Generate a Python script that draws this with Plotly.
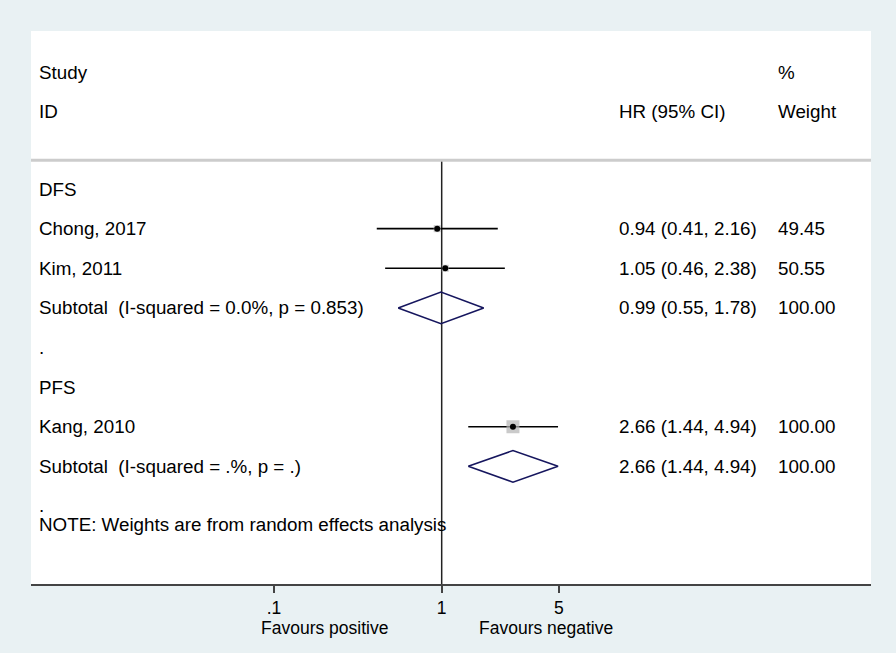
import math
import plotly.graph_objects as go

# Rows of the forest plot (top to bottom, below the header)
row_labels = ["DFS", "Chong, 2017", "Kim, 2011",
              "Subtotal\u00a0\u00a0(I-squared = 0.0%, p = 0.853)", ".",
              "PFS", "Kang, 2010",
              "Subtotal\u00a0\u00a0(I-squared = .%, p = .)", "."]

# Individual studies
study_rows = [1, 2, 6]
study_hr = [0.94, 1.05, 2.66]
study_lo = [0.41, 0.46, 1.44]
study_hi = [2.16, 2.38, 4.94]
study_wt = ["49.45", "50.55", "100.00"]
study_box = [7, 7, 13]

# Subtotals (diamonds)
sub_rows = [3, 7]
sub_hr = [0.99, 2.66]
sub_lo = [0.55, 1.44]
sub_hi = [1.78, 4.94]
sub_wt = ["100.00", "100.00"]

tick_vals = [0.1, 1, 5]
tick_text = [".1", "1", "5"]

FONT = "Liberation Sans, Arial, sans-serif"
FS = 18.8
x_lab = (37 - 31) / 840
x_hr = (617 - 31) / 840
x_wt = (776 - 31) / 840

fig = go.Figure()

# null line
fig.add_trace(go.Scatter(x=[1, 1], y=[-0.73, 9.97], mode="lines",
                         line=dict(color="#222222", width=1.5),
                         hoverinfo="skip", showlegend=False))

# header separator
fig.add_shape(type="line", xref="paper", yref="y", x0=0, x1=1, y0=-0.73, y1=-0.73,
              line=dict(color="#cccccc", width=3))

# confidence intervals
for r, lo, hi in zip(study_rows, study_lo, study_hi):
    fig.add_trace(go.Scatter(x=[lo, hi], y=[r, r], mode="lines",
                             line=dict(color="black", width=1.6),
                             hoverinfo="skip", showlegend=False))

# weight boxes and point estimates
fig.add_trace(go.Scatter(x=study_hr, y=study_rows, mode="markers",
                         marker=dict(symbol="square", size=study_box, color="#b4b4b4",
                                     line=dict(width=0)),
                         hoverinfo="skip", showlegend=False))
fig.add_trace(go.Scatter(x=study_hr, y=study_rows, mode="markers",
                         marker=dict(symbol="circle", size=6, color="black"),
                         hoverinfo="skip", showlegend=False))

# diamonds
h = 0.4
for r, est, lo, hi in zip(sub_rows, sub_hr, sub_lo, sub_hi):
    fig.add_trace(go.Scatter(x=[lo, est, hi, est, lo], y=[r, r - h, r, r + h, r],
                             mode="lines", line=dict(color="#16165e", width=1.6),
                             hoverinfo="skip", showlegend=False))

ann = []


def txt(x, y, s, xref="paper", yref="y"):
    ann.append(dict(x=x, y=y, xref=xref, yref=yref, text=s, showarrow=False,
                    xanchor="left", yanchor="middle",
                    font=dict(family=FONT, size=FS, color="black")))


# header
txt(x_lab, -2.93, "Study")
txt(x_wt, -2.93, "%")
txt(x_lab, -1.97, "ID")
txt(x_hr, -1.97, "HR (95% CI)")
txt(x_wt, -1.97, "Weight")

for i, lab in enumerate(row_labels):
    txt(x_lab, i, lab)

for r, est, lo, hi, w in zip(study_rows, study_hr, study_lo, study_hi, study_wt):
    txt(x_hr, r, "%.2f (%.2f, %.2f)" % (est, lo, hi))
    txt(x_wt, r, w)
for r, est, lo, hi, w in zip(sub_rows, sub_hr, sub_lo, sub_hi, sub_wt):
    txt(x_hr, r, "%.2f (%.2f, %.2f)" % (est, lo, hi))
    txt(x_wt, r, w)

txt(x_lab, 8.46, "NOTE: Weights are from random effects analysis")

# favours labels
for xv, s in [(0.201, "Favours positive"), (4.19, "Favours negative")]:
    ann.append(dict(x=math.log10(xv), y=-0.079, xref="x", yref="paper",
                    text=s, showarrow=False, xanchor="center", yanchor="middle",
                    font=dict(family=FONT, size=17.5, color="black")))

fig.update_layout(
    width=896, height=653,
    margin=dict(l=31, r=25, t=31, b=69),
    paper_bgcolor="#e9f1f3",
    plot_bgcolor="white",
    annotations=ann,
    showlegend=False,
    xaxis=dict(type="log", range=[-2.449, 2.560], tickvals=tick_vals, ticktext=tick_text,
               showgrid=False, zeroline=False, showline=True, linecolor="#444444",
               linewidth=2, ticks="outside", ticklen=7, tickwidth=1.5, tickcolor="#444444",
               tickfont=dict(family=FONT, size=17.5, color="black"), ticklabelstandoff=0),
    yaxis=dict(range=[9.97, -3.99], visible=False, showgrid=False, zeroline=False),
)

fig.write_html("out.html", config={"displayModeBar": False},
               post_script="document.body.style.margin='0';")
